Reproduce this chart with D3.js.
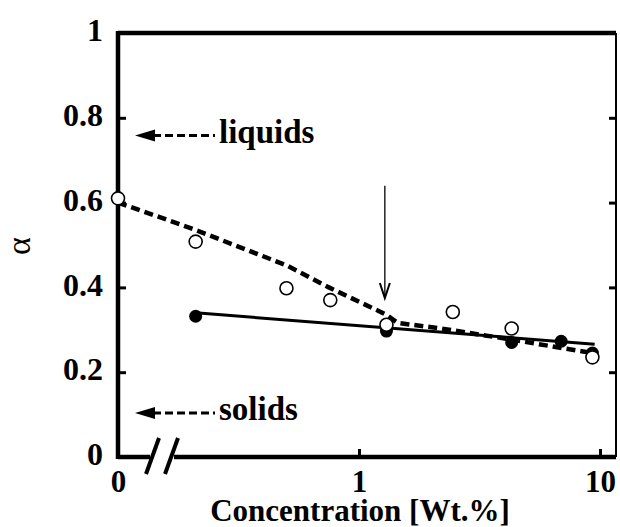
<!DOCTYPE html>
<html>
<head>
<meta charset="utf-8">
<script src="https://cdn.jsdelivr.net/npm/d3@7"></script>
<style>
  body { margin: 0; background: #fff; }
  text { font-family: "Liberation Serif", "Times New Roman", serif; }
</style>
</head>
<body>
<div id="chart"></div>
<script>
// open circles (fitted with the dashed curve)
const openConc = [0, 0.21, 0.5, 0.76, 1.3, 2.45, 4.3, 9.3];
const openAlpha = [0.61, 0.508, 0.398, 0.37, 0.312, 0.342, 0.303, 0.235];
// filled circles (fitted with the solid line)
const filledConc = [0.21, 1.3, 4.3, 6.9, 9.3];
const filledAlpha = [0.332, 0.297, 0.27, 0.273, 0.245];
// fit lines
const dashedConc = [0, 0.2, 0.5, 0.75, 1.2, 1.3, 1.45, 2.2, 4.5, 9.3];
const dashedAlpha = [0.60, 0.54, 0.452, 0.40, 0.345, 0.335, 0.316, 0.303, 0.275, 0.245];
const solidConc = [0.21, 9.5];
const solidAlpha = [0.34, 0.266];
// axes
const yTicks = [0, 0.2, 0.4, 0.6, 0.8, 1];
const xTicks = [0, 1, 10];
// reference levels on the left
const refLabels = ['liquids', 'solids'];
const refAlpha = [0.758, 0.104];
// vertical arrow
const arrowConc = 1.28, arrowFrom = 0.64, arrowTo = 0.375;

const width = 620, height = 527;
const margin = { top: 33, right: 4, bottom: 70, left: 118 };
const zeroAt = 0.1; // where "0" sits on the broken log axis

const svg = d3.select('#chart').append('svg')
  .attr('width', width)
  .attr('height', height);

const x = d3.scaleLog().domain([zeroAt, 11.65]).range([margin.left, width - margin.right]);
const y = d3.scaleLinear().domain([0, 1]).range([height - margin.bottom, margin.top]);
const xv = c => x(c === 0 ? zeroAt : c);

const font = '"Liberation Serif", "Times New Roman", serif';

// left axis
const yAxis = svg.append('g')
  .attr('transform', `translate(${margin.left},0)`)
  .call(d3.axisLeft(y).tickValues(yTicks).tickSize(-8).tickPadding(15)
    .tickFormat(d => (d === 0 || d === 1) ? d : d3.format('.1f')(d)));
yAxis.select('.domain').remove();
yAxis.attr('font-family', font);
yAxis.selectAll('line').attr('stroke', '#000').attr('stroke-width', 3);
yAxis.selectAll('text').attr('font-size', 32).attr('font-weight', 'bold').attr('dy', '0.24em').attr('fill', '#000');

// right ticks
svg.append('g')
  .attr('transform', `translate(${width - margin.right},0)`)
  .call(d3.axisRight(y).tickValues(yTicks.filter(d => d > 0 && d < 1)).tickSize(-7).tickFormat(''))
  .call(g => g.select('.domain').remove())
  .selectAll('line').attr('stroke', '#000').attr('stroke-width', 3);

// bottom axis
const xAxis = svg.append('g')
  .attr('transform', `translate(0,${height - margin.bottom})`)
  .call(d3.axisBottom(x).tickValues(xTicks.map(d => d === 0 ? zeroAt : d)).tickSize(-8).tickPadding(13)
    .tickFormat((d, i) => xTicks[i]));
xAxis.select('.domain').remove();
xAxis.attr('font-family', font);
xAxis.selectAll('line').attr('stroke', '#000').attr('stroke-width', 3);
xAxis.selectAll('.tick').filter((d, i) => xTicks[i] === 0).select('line').remove();
xAxis.selectAll('text').attr('font-size', 31).attr('font-weight', 'bold').attr('fill', '#000');

// frame
const x0 = margin.left, x1 = width - margin.right, y0 = margin.top, y1 = height - margin.bottom;
svg.append('line').attr('x1', x0).attr('x2', x0).attr('y1', y0 - 2).attr('y2', y1 + 2).attr('stroke', '#000').attr('stroke-width', 4.5);
svg.append('line').attr('x1', x0).attr('x2', x1).attr('y1', y0).attr('y2', y0).attr('stroke', '#000').attr('stroke-width', 4.5);
svg.append('line').attr('x1', x0).attr('x2', x1).attr('y1', y1).attr('y2', y1).attr('stroke', '#000').attr('stroke-width', 4.5);
svg.append('line').attr('x1', x1).attr('x2', x1).attr('y1', y0).attr('y2', y1).attr('stroke', '#000').attr('stroke-width', 2);

// axis break
const bx = x(zeroAt) + 44;
svg.append('rect').attr('x', bx - 12).attr('y', y1 - 4).attr('width', 24).attr('height', 8).attr('fill', '#fff');
[-9, 10].forEach(o => {
  svg.append('line')
    .attr('x1', bx + o - 7).attr('y1', y1 + 17)
    .attr('x2', bx + o + 6).attr('y2', y1 - 19)
    .attr('stroke', '#000').attr('stroke-width', 4);
});

// axis titles
svg.append('text')
  .attr('x', 360).attr('y', 521)
  .attr('text-anchor', 'middle')
  .attr('font-size', 31).attr('font-weight', 'bold')
  .text('Concentration [Wt.%]');

svg.append('text')
  .attr('transform', 'translate(20,246) rotate(-90)')
  .attr('text-anchor', 'middle').attr('dy', '0.3em')
  .attr('font-size', 34)
  .text('α');

// reference levels: arrow + dashed stub + label
refLabels.forEach((label, i) => {
  const ry = y(refAlpha[i]);
  const tip = x(zeroAt) + 17;
  svg.append('path')
    .attr('d', `M${tip},${ry} L${tip + 20},${ry - 6} L${tip + 20},${ry + 6} Z`)
    .attr('fill', '#000');
  svg.append('line')
    .attr('x1', tip + 18).attr('x2', tip + 80)
    .attr('y1', ry).attr('y2', ry)
    .attr('stroke', '#000').attr('stroke-width', 3)
    .attr('stroke-dasharray', '8,4');
  svg.append('text')
    .attr('x', tip + 84).attr('y', ry + 7)
    .attr('font-size', 33).attr('font-weight', 'bold')
    .text(label);
});

// fit lines
const line = d3.line().x(d => xv(d[0])).y(d => y(d[1]));

svg.append('path')
  .datum(d3.zip(dashedConc, dashedAlpha))
  .attr('d', line)
  .attr('fill', 'none')
  .attr('stroke', '#000')
  .attr('stroke-width', 4.5)
  .attr('stroke-dasharray', '9,5');

svg.append('path')
  .datum(d3.zip(solidConc, solidAlpha))
  .attr('d', line)
  .attr('fill', 'none')
  .attr('stroke', '#000')
  .attr('stroke-width', 3);

// vertical arrow
const ax = x(arrowConc);
svg.append('line')
  .attr('x1', ax).attr('x2', ax)
  .attr('y1', y(arrowFrom)).attr('y2', y(arrowTo))
  .attr('stroke', '#000').attr('stroke-width', 1.3);
svg.append('path')
  .attr('d', `M${ax - 5},${y(arrowTo) - 15} L${ax},${y(arrowTo)} L${ax + 5},${y(arrowTo) - 15}`)
  .attr('fill', 'none').attr('stroke', '#000').attr('stroke-width', 2);

// points
svg.selectAll('.filled')
  .data(d3.zip(filledConc, filledAlpha))
  .enter().append('circle')
  .attr('class', 'filled')
  .attr('cx', d => xv(d[0]))
  .attr('cy', d => y(d[1]))
  .attr('r', 6.5)
  .attr('fill', '#000');

svg.selectAll('.open')
  .data(d3.zip(openConc, openAlpha))
  .enter().append('circle')
  .attr('class', 'open')
  .attr('cx', d => xv(d[0]))
  .attr('cy', d => y(d[1]))
  .attr('r', 6.5)
  .attr('fill', '#fff')
  .attr('stroke', '#000')
  .attr('stroke-width', 1.6);
</script>
</body>
</html>
